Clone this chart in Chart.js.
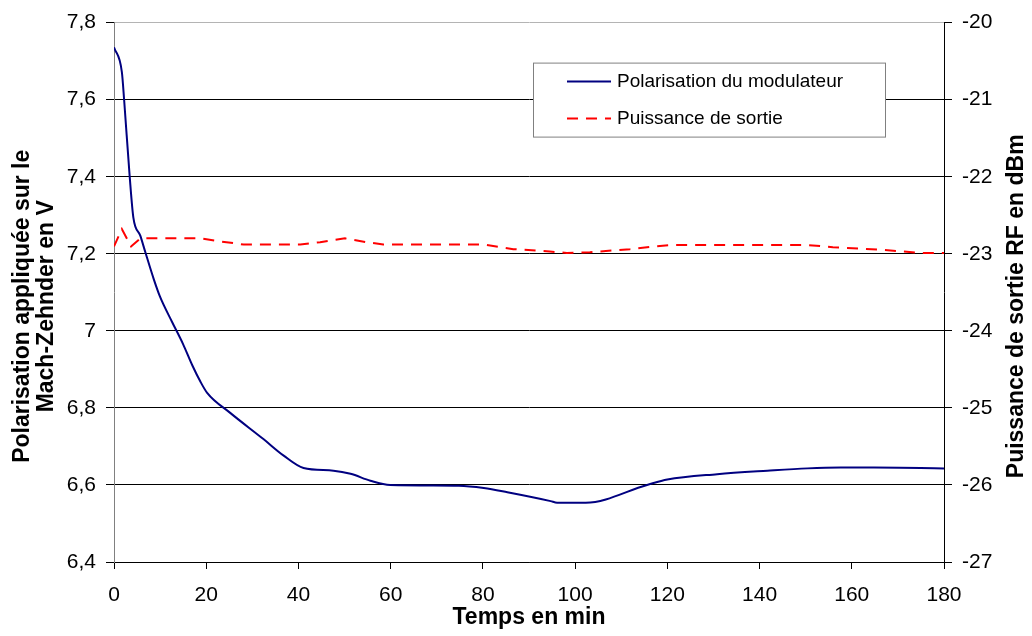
<!DOCTYPE html>
<html>
<head>
<meta charset="utf-8">
<script src="https://cdn.jsdelivr.net/npm/chart.js@4.4.1/dist/chart.umd.min.js"></script>
<style>
  body { margin: 0; background: #fff; }
  #wrap { width: 1032px; height: 636px; }
</style>
</head>
<body>
<div id="wrap"><canvas id="mzChart" width="1032" height="636"></canvas></div>
<script>
// time (min) and bias voltage (V)
const biasTime = [0, 1.7, 2.2, 3.4, 4.2, 5.7, 6.8, 8.6, 10, 12.6, 15, 17, 18.7, 20.2, 25.2, 32.4, 36.8, 41.1,
  47.6, 51.3, 55.6, 59.9, 74.8, 80.2, 85.3, 94.7, 96.1, 102.3, 115.6, 120, 130.8, 141.7, 150.4, 157.6, 164.8, 180];
const biasVolt = [7.736, 7.672, 7.599, 7.401, 7.294, 7.247, 7.204, 7.135, 7.088, 7.023, 6.965, 6.91, 6.869, 6.839,
  6.787, 6.719, 6.676, 6.644, 6.637, 6.629, 6.611, 6.600, 6.598, 6.592, 6.581, 6.558, 6.554, 6.554, 6.600, 6.614,
  6.628, 6.637, 6.643, 6.645, 6.645, 6.643];

// time (min) and RF output power (dBm), red dashed curve
const powerTime = [0, 1.7, 3.7, 5.7, 18.7, 23.1, 28.1, 40.4, 44.7, 50.1, 54.8, 58.4, 80.1, 86.6, 94.5, 98.2,
  103.2, 111.9, 116.2, 121.2, 150.1, 155.9, 166.7, 175.4, 180];
const powerDbm = [-22.905, -22.68, -22.905, -22.80, -22.80, -22.84, -22.88, -22.88, -22.85, -22.80, -22.85, -22.88,
  -22.88, -22.94, -22.97, -22.99, -22.98, -22.94, -22.91, -22.885, -22.885, -22.915, -22.95, -22.99, -22.99];

const seriesNames = ["Polarisation du modulateur", "Puissance de sortie"];
const xTicks = [0, 20, 40, 60, 80, 100, 120, 140, 160, 180];
const leftTitle = ["Polarisation appliquée sur le", "Mach-Zehnder en V"];
const rightTitle = "Puissance de sortie RF en dBm";

const FONT = "'Liberation Sans', Arial, sans-serif";

function toPoints(xs, ys) {
  return xs.map((x, i) => ({ x: x, y: ys[i] }));
}

// comma as decimal separator, like the original
function frNumber(v) {
  return String(Math.round(v * 10) / 10).replace(".", ",");
}

// both vertical titles read bottom to top, so they are drawn here
function drawVertical(ctx, lines, x, y, step) {
  ctx.save();
  ctx.translate(x, y);
  ctx.rotate(-Math.PI / 2);
  ctx.font = "bold 23px " + FONT;
  ctx.fillStyle = "#000";
  ctx.textAlign = "center";
  ctx.textBaseline = "middle";
  lines.forEach((t, i) => ctx.fillText(t, 0, i * step));
  ctx.restore();
}

// boxed legend inside the plot area plus the axis titles
const boxLegend = {
  id: "boxLegend",
  afterDraw(chart) {
    const ctx = chart.ctx;
    const area = chart.chartArea;
    const midY = (area.top + area.bottom) / 2 + 14;
    drawVertical(ctx, leftTitle, 23, midY, 24);
    drawVertical(ctx, [rightTitle], chart.width - 15, midY, 0);

    const left = area.left + 419;
    const top = area.top + 40;
    const w = 352;
    const h = 74;
    ctx.save();
    ctx.fillStyle = "#fff";
    ctx.fillRect(left, top, w, h);
    ctx.strokeStyle = "#808080";
    ctx.lineWidth = 1;
    ctx.strokeRect(left + 0.5, top + 0.5, w, h);
    ctx.font = "19px " + FONT;
    ctx.textBaseline = "middle";
    ctx.fillStyle = "#000";
    chart.data.datasets.forEach((ds, i) => {
      const y = top + 19 + i * 37;
      ctx.strokeStyle = ds.borderColor;
      ctx.lineWidth = 2;
      ctx.setLineDash(ds.borderDash || []);
      ctx.beginPath();
      ctx.moveTo(left + 34, y);
      ctx.lineTo(left + 78, y);
      ctx.stroke();
      ctx.setLineDash([]);
      ctx.fillText(ds.label, left + 84, y);
    });
    ctx.restore();
  }
};

const ctx = document.getElementById("mzChart");

new Chart(ctx, {
  type: "line",
  data: {
    datasets: [
      {
        label: seriesNames[0],
        data: toPoints(biasTime, biasVolt),
        borderColor: "#000080",
        borderWidth: 2,
        pointRadius: 0,
        cubicInterpolationMode: "monotone",
        yAxisID: "y",
      },
      {
        label: seriesNames[1],
        data: toPoints(powerTime, powerDbm),
        borderColor: "#ff0000",
        borderWidth: 2,
        borderDash: [11, 8],
        pointRadius: 0,
        tension: 0,
        yAxisID: "y1",
      },
    ],
  },
  options: {
    responsive: false,
    animation: false,
    layout: { padding: { top: 19 } },
    plugins: {
      legend: { display: false },
      tooltip: { enabled: false },
    },
    scales: {
      x: {
        type: "linear",
        min: 0,
        max: 180,
        afterBuildTicks: (scale) => { scale.ticks = xTicks.map((v) => ({ value: v })); },
        afterFit: (scale) => { scale.height = 74; },
        grid: { drawOnChartArea: false, drawTicks: true, tickLength: 7, tickColor: "#000" },
        border: { color: "#000", width: 1 },
        ticks: { color: "#000", font: { family: FONT, size: 21 }, padding: 14, maxRotation: 0 },
        title: {
          display: true,
          text: "Temps en min",
          color: "#000",
          font: { family: FONT, size: 23, weight: "bold" },
          padding: { top: 0, bottom: 5 },
        },
      },
      y: {
        position: "left",
        min: 6.4,
        max: 7.8,
        afterFit: (scale) => { scale.width = 114; },
        ticks: { stepSize: 0.2, color: "#000", font: { family: FONT, size: 21 }, padding: 10, callback: (v) => frNumber(v) },
        grid: {
          color: (c) => (c.tick && Math.abs(c.tick.value - 7.8) < 1e-6 ? "#b4b4b4" : "#000"),
          tickColor: "#000",
          tickLength: 8,
        },
        border: { color: "#808080", width: 1 },
      },
      y1: {
        position: "right",
        min: -27,
        max: -20,
        afterFit: (scale) => { scale.width = 88; },
        ticks: { stepSize: 1, color: "#000", font: { family: FONT, size: 21 }, padding: 10 },
        grid: { drawOnChartArea: false, tickColor: "#000", tickLength: 8 },
        border: { color: "#000", width: 1 },
      },
    },
  },
  plugins: [boxLegend],
});
</script>
</body>
</html>
